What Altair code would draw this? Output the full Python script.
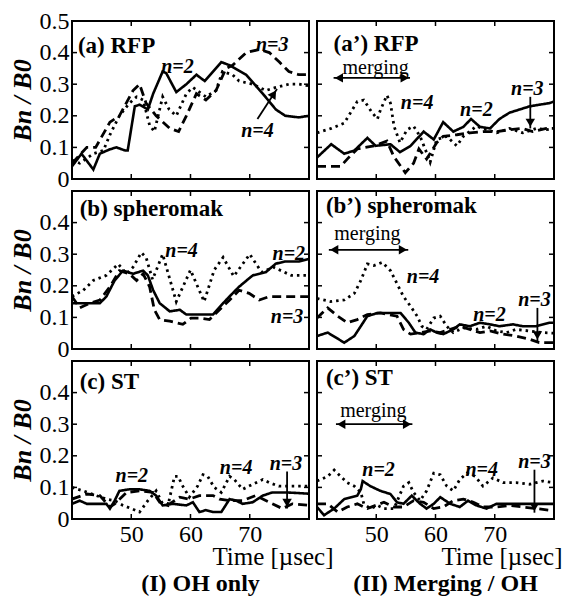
import altair as alt
import pandas as pd

FONT = "Liberation Serif, Times New Roman, DejaVu Serif, serif"
W, H = 237, 158

SERIES_NAMES = ["n=2", "n=3", "n=4"]
X_TICKS = [50, 60, 70]
Y_TICKS = [0.1, 0.2, 0.3, 0.4]
Y_LABELS_TOP = [0, 0.1, 0.2, 0.3, 0.4, 0.5]
Y_LABELS = [0, 0.1, 0.2, 0.3, 0.4]

# ---------------- (a) RFP, OH only ----------------
A2_T = [40, 41.6, 43.6, 44.7, 46.4, 47.5, 49, 49.4, 50.6, 51.4, 52.8, 53.7, 55.3, 55.9, 57.6, 59.3, 61, 62.4, 63.8, 65.2, 66.6, 69.4, 72.2, 74.4, 76, 78.3, 80]
A2_V = [0.04, 0.08, 0.03, 0.08, 0.094, 0.1, 0.09, 0.09, 0.23, 0.235, 0.22, 0.27, 0.34, 0.335, 0.275, 0.30, 0.33, 0.31, 0.34, 0.37, 0.36, 0.33, 0.27, 0.22, 0.20, 0.195, 0.20]
A3_T = [40, 41, 42.5, 44, 46.4, 48, 50.3, 51.4, 52.5, 54.2, 56.5, 58, 59.3, 61, 62.6, 64.3, 66, 67.1, 69.4, 71.6, 73.3, 75, 76.6, 78.3, 80]
A3_V = [0.05, 0.07, 0.1, 0.1, 0.18, 0.2, 0.28, 0.3, 0.24, 0.2, 0.16, 0.15, 0.2, 0.27, 0.25, 0.28, 0.35, 0.36, 0.4, 0.41, 0.4, 0.37, 0.34, 0.33, 0.33]
A4_T = [40, 41.3, 43.6, 45.3, 46.4, 48, 49.7, 50.9, 52, 53.1, 53.9, 55.3, 56.4, 57.6, 59.3, 60.4, 62.6, 64.3, 65.4, 67.1, 68.2, 70.5, 72.7, 74.4, 76.6, 78.3, 80]
A4_V = [0.06, 0.05, 0.08, 0.09, 0.14, 0.2, 0.24, 0.26, 0.25, 0.17, 0.15, 0.26, 0.22, 0.2, 0.27, 0.29, 0.26, 0.28, 0.34, 0.33, 0.31, 0.3, 0.28, 0.29, 0.3, 0.3, 0.295]

# ---------------- (a') RFP, merging ----------------
AP2_T = [40, 42.4, 44.6, 46.3, 48.5, 49.9, 52.4, 54, 55.8, 58, 59.7, 61.3, 63, 64.7, 66, 67.5, 69.2, 70.8, 72.5, 74.2, 75.9, 77.5, 79.2, 80]
AP2_V = [0.068, 0.11, 0.08, 0.09, 0.13, 0.105, 0.11, 0.085, 0.105, 0.15, 0.125, 0.18, 0.15, 0.165, 0.19, 0.165, 0.16, 0.19, 0.21, 0.22, 0.23, 0.235, 0.24, 0.245]
AP3_T = [40, 44, 45.1, 46.8, 49.6, 51.8, 53, 54.9, 56.3, 57.2, 58.5, 60.2, 61.3, 63.6, 65.8, 68, 70.3, 72.5, 74.7, 76.4, 78.7, 80]
AP3_V = [0.04, 0.04, 0.063, 0.095, 0.105, 0.12, 0.07, 0.02, 0.05, 0.095, 0.063, 0.115, 0.135, 0.14, 0.146, 0.15, 0.15, 0.156, 0.16, 0.15, 0.16, 0.16]
AP4_T = [40, 42.4, 44.6, 46.8, 47.9, 49.3, 50.2, 50.7, 51.8, 52.4, 53, 54, 55.2, 56.3, 57.4, 58.5, 59.1, 60.2, 61.9, 63.6, 64.7, 66.9, 68.6, 70.3, 72.5, 74.7, 77, 78.7, 80]
AP4_V = [0.146, 0.16, 0.177, 0.245, 0.25, 0.21, 0.19, 0.218, 0.265, 0.24, 0.167, 0.115, 0.156, 0.167, 0.135, 0.083, 0.053, 0.125, 0.135, 0.105, 0.135, 0.167, 0.156, 0.146, 0.16, 0.146, 0.16, 0.156, 0.16]

# ---------------- (b) spheromak, OH only ----------------
B2_T = [40, 41.9, 44.7, 45.8, 47.2, 48.6, 50.3, 52, 52.8, 53.7, 54.8, 56.5, 58.2, 59.3, 61, 63.8, 66, 68.2, 70.5, 72.7, 74.4, 76, 78.3, 80]
B2_V = [0.145, 0.145, 0.145, 0.166, 0.217, 0.248, 0.238, 0.248, 0.233, 0.186, 0.145, 0.119, 0.124, 0.109, 0.109, 0.109, 0.155, 0.197, 0.233, 0.243, 0.27, 0.277, 0.277, 0.285]
B3_T = [40, 41.3, 43, 44.7, 46.4, 48, 49.7, 50.9, 52, 53.1, 53.9, 54.8, 56.5, 58.7, 60.1, 61.5, 63.2, 64.9, 66.6, 68.2, 69.9, 71.6, 73.3, 75, 78.3, 80]
B3_V = [0.166, 0.13, 0.145, 0.155, 0.197, 0.248, 0.238, 0.217, 0.238, 0.197, 0.124, 0.093, 0.088, 0.078, 0.098, 0.098, 0.093, 0.124, 0.155, 0.186, 0.176, 0.155, 0.166, 0.166, 0.166, 0.166]
B4_T = [40, 41.9, 43.6, 45.8, 47.8, 49.2, 50.3, 51.7, 52.5, 53.6, 55.3, 57.6, 60, 62.3, 64, 65.5, 67.3, 70, 72, 74, 77, 80]
B4_V = [0.166, 0.186, 0.217, 0.233, 0.269, 0.238, 0.259, 0.305, 0.29, 0.22, 0.3, 0.15, 0.25, 0.15, 0.25, 0.29, 0.23, 0.3, 0.243, 0.259, 0.233, 0.233]

# ---------------- (b') spheromak, merging ----------------
BP2_T = [40, 41.8, 44.6, 46.3, 48.5, 50.2, 52.4, 54.1, 55.5, 56.6, 58, 59.1, 60.2, 61.3, 63, 64.1, 65.8, 67.5, 69.2, 70.8, 73.1, 74.7, 77, 79.2, 80]
BP2_V = [0.041, 0.052, 0.02, 0.041, 0.104, 0.114, 0.114, 0.114, 0.083, 0.052, 0.047, 0.062, 0.052, 0.047, 0.062, 0.078, 0.072, 0.083, 0.078, 0.072, 0.078, 0.072, 0.072, 0.083, 0.083]
BP3_T = [40, 41.8, 43.5, 45.1, 46.8, 48.5, 50.7, 53.5, 54.6, 55.8, 57.4, 59.1, 60.8, 62.5, 64.1, 65.8, 67.5, 69.2, 71.4, 73.6, 75.9, 77.5, 79, 80]
BP3_V = [0.098, 0.13, 0.104, 0.083, 0.093, 0.109, 0.114, 0.104, 0.062, 0.047, 0.052, 0.057, 0.052, 0.062, 0.072, 0.062, 0.052, 0.057, 0.047, 0.041, 0.031, 0.02, 0.02, 0.02]
BP4_T = [40, 42.3, 44.6, 46.3, 47.4, 48.5, 49.6, 51, 52.4, 53.5, 54.6, 55.8, 56.9, 57.7, 58.5, 59.7, 60.8, 61.9, 63, 64.7, 66.9, 68.6, 70.3, 72, 73.6, 75.9, 78.1, 80]
BP4_V = [0.16, 0.15, 0.155, 0.176, 0.217, 0.269, 0.264, 0.274, 0.248, 0.207, 0.166, 0.135, 0.104, 0.072, 0.062, 0.098, 0.104, 0.072, 0.052, 0.067, 0.062, 0.072, 0.057, 0.052, 0.062, 0.057, 0.052, 0.05]

# ---------------- (c) ST, OH only ----------------
C2_T = [40, 41.3, 42.5, 45.8, 46.4, 47.2, 48, 49.7, 51.4, 53.1, 54.2, 55.3, 57, 59.3, 60.4, 61.5, 62.6, 63.8, 65.2, 66.6, 67.7, 68.8, 70.5, 72.2, 73.8, 76.1, 78.3, 80]
C2_V = [0.048, 0.058, 0.048, 0.048, 0.033, 0.058, 0.089, 0.094, 0.094, 0.089, 0.074, 0.043, 0.048, 0.043, 0.053, 0.022, 0.028, 0.022, 0.022, 0.063, 0.058, 0.048, 0.053, 0.074, 0.084, 0.084, 0.082, 0.08]
C3_T = [40, 42.5, 44.7, 46.4, 47.2, 49.2, 51.4, 53.7, 54.8, 56.5, 58.2, 59.8, 61.5, 63.8, 64.9, 66.6, 68.8, 71, 73.3, 75.5, 77.2, 80]
C3_V = [0.063, 0.079, 0.074, 0.038, 0.048, 0.084, 0.089, 0.084, 0.053, 0.048, 0.069, 0.063, 0.074, 0.074, 0.063, 0.058, 0.058, 0.074, 0.053, 0.033, 0.048, 0.043]
C4_T = [40, 41.9, 44.1, 45.8, 47.2, 48.6, 50, 51.4, 52.8, 54.2, 55.3, 56.2, 57.3, 57.9, 58.7, 59.8, 61.2, 62.1, 62.9, 64, 65.2, 66.6, 67.4, 68.8, 70.5, 72.2, 73.3, 74.9, 76.6, 80]
C4_V = [0.1, 0.089, 0.074, 0.063, 0.058, 0.043, 0.033, 0.022, 0.058, 0.089, 0.048, 0.043, 0.135, 0.135, 0.104, 0.069, 0.104, 0.14, 0.135, 0.1, 0.084, 0.135, 0.125, 0.094, 0.11, 0.125, 0.115, 0.104, 0.104, 0.104]

# ---------------- (c') ST, merging ----------------
CP2_T = [40, 41.2, 42.9, 44.6, 46.8, 47.4, 47.7, 49, 50.7, 52.4, 53.5, 54.6, 56, 57.4, 58.5, 59.7, 60.8, 62.5, 64.1, 65.5, 66.9, 68.6, 70.3, 80]
CP2_V = [0.038, 0.012, 0.033, 0.063, 0.074, 0.094, 0.12, 0.104, 0.089, 0.079, 0.053, 0.048, 0.074, 0.048, 0.033, 0.048, 0.069, 0.048, 0.038, 0.058, 0.043, 0.033, 0.048, 0.048]
CP3_T = [40, 41.8, 43.5, 45.1, 46.8, 48.5, 51.3, 53, 54.6, 56.3, 58, 59.7, 61.3, 63, 64.7, 66.4, 68, 70.3, 72.5, 74.7, 77, 79.2, 80]
CP3_V = [0.048, 0.048, 0.022, 0.038, 0.048, 0.033, 0.053, 0.038, 0.038, 0.058, 0.053, 0.033, 0.038, 0.058, 0.063, 0.053, 0.038, 0.038, 0.043, 0.038, 0.033, 0.028, 0.028]
CP4_T = [40, 41.8, 42.9, 44, 45.1, 46.3, 47.4, 47.9, 49, 50.2, 51.3, 53, 54.6, 55.5, 56.3, 57.4, 58.5, 59.7, 60.8, 61.9, 63, 64.1, 65.3, 66.7, 68, 69.7, 71.4, 73.6, 75.9, 78.1, 80]
CP4_V = [0.12, 0.135, 0.155, 0.135, 0.115, 0.104, 0.084, 0.048, 0.033, 0.043, 0.033, 0.033, 0.104, 0.115, 0.084, 0.058, 0.089, 0.145, 0.14, 0.104, 0.089, 0.125, 0.145, 0.135, 0.104, 0.13, 0.115, 0.115, 0.11, 0.12, 0.115]

# ---------------- annotations ----------------
PANEL_LABELS = ["(a) RFP", "(a\u2019) RFP", "(b) spheromak", "(b\u2019) spheromak", "(c) ST", "(c\u2019) ST"]
PANEL_LABEL_T = [41.0, 42.8, 41.3, 41.5, 41.3, 41.5]
PANEL_LABEL_V = [0.40, 0.404, 0.42, 0.43, 0.41, 0.423]

N_TEXT = [["n=2", "n=3", "n=4"], ["n=4", "n=2", "n=3"], ["n=4", "n=2", "n=3"],
          ["n=4", "n=2", "n=3"], ["n=2", "n=4", "n=3"], ["n=2", "n=4", "n=3"]]
N_TEXT_T = [[57.8, 73.8, 71.3], [56.9, 66.9, 75.5], [58.5, 76.6, 76.3],
            [57.9, 69.1, 76.7], [50.1, 67.7, 76.1], [50.4, 67.8, 76.7]]
N_TEXT_V = [[0.354, 0.425, 0.152], [0.24, 0.217, 0.286], [0.31, 0.30, 0.10],
            [0.227, 0.109, 0.155], [0.135, 0.16, 0.175], [0.156, 0.156, 0.18]]

# single arrows (tail -> tip), one per panel (None for panel b)
ARROW_T1 = [71.3, 76.0, None, 77.2, 76.3, 76.7]
ARROW_V1 = [0.19, 0.26, None, 0.13, 0.15, 0.156]
ARROW_T2 = [74.6, 76.0, None, 77.2, 76.3, 76.7]
ARROW_V2 = [0.285, 0.16, None, 0.025, 0.033, 0.02]
HEAD_T = [74.06, 76.0, None, 77.2, 76.3, 76.7]
HEAD_V = [0.269, 0.178, None, 0.043, 0.051, 0.038]
HEAD_SHAPE = ["triangle-up", "triangle-down", None, "triangle-down", "triangle-down", "triangle-down"]
HEAD_ANGLE = [33, 0, None, 0, 0, 0]

# merging double arrows (right column only)
MERGE_TEXT_T = [None, 49.9, None, 48.5, None, 49.5]
MERGE_TEXT_V = [None, 0.35, None, 0.363, None, 0.343]
MERGE_V = [None, 0.32, None, 0.314, None, 0.30]
MERGE_T1 = [None, 42.8, None, 42.0, None, 43.2]
MERGE_T2 = [None, 55.7, None, 55.4, None, 56.1]

BOTTOM_TITLES = ["(I) OH only", "(II) Merging / OH"]

SERIES = [
    (A2_T, A2_V, A3_T, A3_V, A4_T, A4_V),
    (AP2_T, AP2_V, AP3_T, AP3_V, AP4_T, AP4_V),
    (B2_T, B2_V, B3_T, B3_V, B4_T, B4_V),
    (BP2_T, BP2_V, BP3_T, BP3_V, BP4_T, BP4_V),
    (C2_T, C2_V, C3_T, C3_V, C4_T, C4_V),
    (CP2_T, CP2_V, CP3_T, CP3_V, CP4_T, CP4_V),
]

XS = alt.Scale(domain=[40, 80], nice=False, zero=False)
YS = alt.Scale(domain=[0, 0.5], nice=False, zero=False)

STYLES = {
    "n=2": dict(strokeDash=[1, 0], strokeWidth=2.6),
    "n=3": dict(strokeDash=[9, 5], strokeWidth=2.8),
    "n=4": dict(strokeDash=[2.5, 4], strokeWidth=2.8),
}


def make_panel(i):
    col = i % 2
    row = i // 2
    if row == 2:
        xaxis = alt.Axis(values=X_TICKS, labelFontSize=24, labelFont=FONT, labelColor="black",
                         labelPadding=3, ticks=False, domain=False, grid=False,
                         title="Time [\u00b5sec]", titleFont=FONT, titleFontSize=25,
                         titleFontWeight="normal", titleColor="black",
                         titleAlign="right", titleBaseline="top",
                         titleX=W + (24 if col == 0 else 8), titleY=25)
    else:
        xaxis = None
    if col == 0:
        yaxis = alt.Axis(values=Y_LABELS_TOP if row == 0 else Y_LABELS,
                         labelExpr="datum.value == 0 ? '0' : format(datum.value, '.1f')",
                         labelFontSize=24, labelFont=FONT, labelColor="black",
                         labelPadding=3, labelOverlap=False, ticks=False, domain=False, grid=False,
                         title="Bn / B0", titleFont=FONT, titleFontSize=26,
                         titleFontStyle="italic", titleFontWeight="bold", titleColor="black",
                         titlePadding=4)
    else:
        yaxis = None

    def X(f="t"):
        return alt.X(f"{f}:Q", scale=XS, axis=xaxis)

    def Y(f="v"):
        return alt.Y(f"{f}:Q", scale=YS, axis=yaxis)

    t2, v2, t3, v3, t4, v4 = SERIES[i]
    layers = []
    for name, ts, vs in (("n=2", t2, v2), ("n=3", t3, v3), ("n=4", t4, v4)):
        df = pd.DataFrame({"t": ts, "v": vs})
        layers.append(
            alt.Chart(df).mark_line(color="black", clip=True, strokeCap="butt", **STYLES[name])
            .encode(x=X(), y=Y())
        )

    # inward ticks
    xt = pd.DataFrame({"t": X_TICKS})
    yt = pd.DataFrame({"v": Y_TICKS})
    layers.append(alt.Chart(xt).mark_rule(color="black", strokeWidth=1.5)
                  .encode(x=X(), y=alt.value(0), y2=alt.value(5)))
    layers.append(alt.Chart(xt).mark_rule(color="black", strokeWidth=1.5)
                  .encode(x=X(), y=alt.value(H - 5), y2=alt.value(H)))
    layers.append(alt.Chart(yt).mark_rule(color="black", strokeWidth=1.5)
                  .encode(y=Y(), x=alt.value(0), x2=alt.value(5)))
    layers.append(alt.Chart(yt).mark_rule(color="black", strokeWidth=1.5)
                  .encode(y=Y(), x=alt.value(W - 5), x2=alt.value(W)))

    # panel label
    pl = pd.DataFrame({"t": [PANEL_LABEL_T[i]], "v": [PANEL_LABEL_V[i]], "label": [PANEL_LABELS[i]]})
    layers.append(alt.Chart(pl).mark_text(font=FONT, fontSize=23, fontWeight="bold", color="black",
                                          align="left", baseline="alphabetic")
                  .encode(x=X(), y=Y(), text="label:N"))

    # n= labels
    nl = pd.DataFrame({"t": N_TEXT_T[i], "v": N_TEXT_V[i], "label": N_TEXT[i]})
    layers.append(alt.Chart(nl).mark_text(font=FONT, fontSize=20, fontWeight="bold", fontStyle="italic",
                                          color="black", align="center", baseline="middle")
                  .encode(x=X(), y=Y(), text="label:N"))

    # single arrow
    if ARROW_T1[i] is not None:
        ar = pd.DataFrame({"t": [ARROW_T1[i]], "v": [ARROW_V1[i]], "t2": [ARROW_T2[i]], "v2": [ARROW_V2[i]]})
        layers.append(alt.Chart(ar).mark_rule(color="black", strokeWidth=1.8)
                      .encode(x=X(), y=Y(), x2="t2:Q", y2="v2:Q"))
        hd = pd.DataFrame({"t": [HEAD_T[i]], "v": [HEAD_V[i]], "shape": [HEAD_SHAPE[i]], "angle": [HEAD_ANGLE[i]]})
        layers.append(alt.Chart(hd).mark_point(filled=True, color="black", size=90, opacity=1)
                      .encode(x=X(), y=Y(), shape=alt.Shape("shape:N", scale=None),
                              angle=alt.Angle("angle:Q", scale=None)))

    # merging double arrow
    if MERGE_V[i] is not None:
        mt = pd.DataFrame({"t": [MERGE_TEXT_T[i]], "v": [MERGE_TEXT_V[i]], "label": ["merging"]})
        layers.append(alt.Chart(mt).mark_text(font=FONT, fontSize=20, color="black",
                                              align="center", baseline="middle")
                      .encode(x=X(), y=Y(), text="label:N"))
        mr = pd.DataFrame({"t": [MERGE_T1[i]], "t2": [MERGE_T2[i]], "v": [MERGE_V[i]]})
        layers.append(alt.Chart(mr).mark_rule(color="black", strokeWidth=1.8)
                      .encode(x=X(), x2="t2:Q", y=Y()))
        mh = pd.DataFrame({"t": [MERGE_T1[i] + 0.9, MERGE_T2[i] - 0.9], "v": [MERGE_V[i]] * 2,
                           "shape": ["triangle-left", "triangle-right"]})
        layers.append(alt.Chart(mh).mark_point(filled=True, color="black", size=90, opacity=1)
                      .encode(x=X(), y=Y(), shape=alt.Shape("shape:N", scale=None)))

    ch = alt.layer(*layers).properties(width=W, height=H)
    if row == 2:
        ch = ch.properties(title=alt.TitleParams(BOTTOM_TITLES[col], orient="bottom", anchor="middle",
                                                 font=FONT, fontSize=24, fontWeight="bold",
                                                 color="black", offset=3, dx=10))
    return ch


panels = [make_panel(i) for i in range(6)]

chart = alt.concat(*panels, columns=2, spacing={"row": 12, "column": 8}, bounds="flush").properties(
    padding={"left": 0, "top": 0, "right": 0, "bottom": 0},
    background="white",
).configure_view(stroke="black", strokeWidth=2)

chart.save("out.html", embed_options={"renderer": "svg", "actions": False})
